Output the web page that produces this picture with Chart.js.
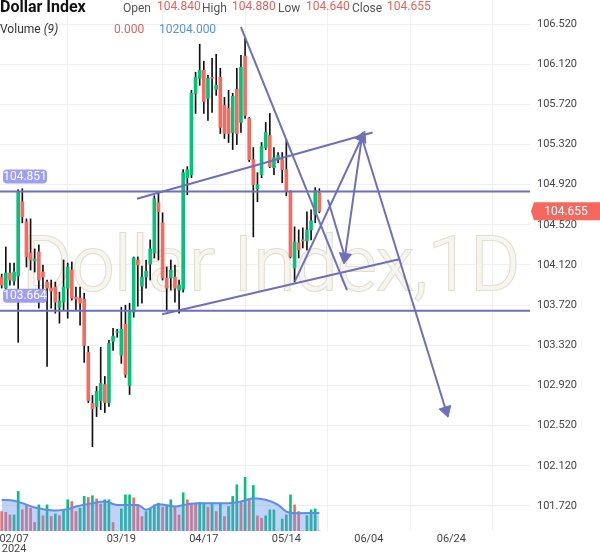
<!DOCTYPE html>
<html>
<head>
<meta charset="utf-8">
<script src="https://cdn.jsdelivr.net/npm/chart.js@4.4.1/dist/chart.umd.min.js"></script>
<style>
  body { margin: 0; background: #fff; }
  #wrap { position: relative; width: 600px; height: 558px; font-family: Roboto, sans-serif; }
  #myChart { position: absolute; left: 0; top: 0; }
  .t { position: absolute; white-space: nowrap; font-size: 12px; line-height: 12px; }
  .lab { color: #555; }
  .red { color: #e5625b; }
  .blue { color: #5b8ff0; }
</style>
</head>
<body>
<div id="wrap">
  <canvas id="myChart" width="600" height="558"></canvas>
  <span class="t" style="left:0;top:-1px;font-weight:bold;font-size:16px;line-height:16px;color:#111">Dollar Index</span>
  <span class="t lab" style="left:123px;top:2px">Open</span>
  <span class="t red" style="left:157px;top:0">104.840</span>
  <span class="t lab" style="left:202px;top:2px">High</span>
  <span class="t red" style="left:232px;top:0">104.880</span>
  <span class="t lab" style="left:278px;top:2px">Low</span>
  <span class="t red" style="left:306px;top:0">104.640</span>
  <span class="t lab" style="left:352px;top:2px">Close</span>
  <span class="t red" style="left:387px;top:0">104.655</span>
  <span class="t" style="left:0;top:23px;color:#333">Volume <i>(9)</i></span>
  <span class="t red" style="left:114px;top:23px">0.000</span>
  <span class="t blue" style="left:159px;top:23px">10204.000</span>
</div>
<script>
// daily candles (index 0 = first bar)
var opens  = [104.00,103.89,104.04,103.96,104.01,104.75,104.55,104.24,104.16,104.25,
              104.05,103.95,103.89,103.90,103.70,103.75,103.89,104.07,103.80,103.79,
              103.78,103.25,102.74,102.71,102.77,102.93,102.75,103.36,103.45,103.22,
              103.53,102.92,103.65,104.17,103.91,104.00,104.13,104.24,104.74,104.54,
              103.99,103.99,104.00,103.87,103.88,104.99,105.02,105.83,105.98,106.06,
              105.78,105.99,105.87,105.99,105.71,105.68,105.44,105.87,105.54,106.20,
              105.58,105.17,104.88,105.02,105.29,105.41,105.09,105.17,105.17,105.07,
              104.85,104.09,104.34,104.37,104.36,104.47,104.62,104.84];
var highs  = [104.03,104.30,104.14,104.14,104.87,104.88,104.58,104.58,104.28,104.32,
              104.12,103.97,103.97,103.95,103.85,104.17,104.14,104.15,103.90,103.90,
              103.84,103.31,102.82,102.91,103.30,103.01,103.37,103.49,103.48,103.70,
              103.72,103.74,104.20,104.20,104.11,104.17,104.37,104.81,104.84,104.64,
              104.10,104.17,104.12,103.97,105.07,105.10,105.86,106.04,106.32,106.15,
              106.01,106.18,106.22,106.08,105.79,105.86,105.83,106.08,106.21,106.38,
              105.59,105.29,105.04,105.34,105.54,105.63,105.29,105.24,105.24,105.37,
              104.86,104.50,104.47,104.49,104.65,104.67,104.89,104.88];
var lows   = [103.89,103.85,103.92,103.92,103.35,104.54,104.10,104.07,104.05,103.69,
              103.75,103.11,103.69,103.64,103.54,103.67,103.59,103.77,103.67,103.52,
              103.15,102.75,102.31,102.61,102.68,102.65,102.71,103.27,103.40,103.14,
              103.00,102.83,103.60,103.71,103.74,103.89,103.97,104.19,104.17,103.97,
              103.67,103.87,103.75,103.64,103.85,104.82,104.99,105.63,105.91,105.63,
              105.56,105.64,105.81,105.43,105.38,105.34,105.27,105.32,105.44,105.58,
              105.15,104.40,104.75,104.99,105.27,105.09,105.02,105.14,104.94,104.81,
              104.19,103.95,104.19,104.29,104.27,104.37,104.54,104.64];
var closes = [103.92,104.04,103.97,104.05,104.85,104.60,104.20,104.17,104.18,103.97,
              104.00,103.89,103.86,103.75,103.76,103.90,104.10,103.79,103.78,103.74,
              103.32,102.77,102.69,102.86,102.94,102.75,103.34,103.41,103.46,103.48,
              103.03,103.65,104.19,104.12,104.00,104.06,104.28,104.78,104.65,103.99,
              103.89,104.07,103.89,103.92,105.04,105.07,105.83,105.99,106.06,105.75,
              105.98,105.98,105.91,105.49,105.43,105.43,105.80,105.43,106.09,105.61,
              105.17,104.92,104.92,105.30,105.44,105.10,105.19,105.21,105.07,104.85,
              104.20,104.35,104.27,104.36,104.47,104.56,104.86,104.655];

// volume and its side (1 = up, 0 = down)
var volume = [11000,10600,9100,9100,22400,12000,14300,12900,4800,14800,
              8600,14800,8200,9700,8700,11600,17700,16700,11000,12900,
              19600,19000,20000,18200,15200,17700,17700,4800,0,12500,
              20500,20500,18800,14800,8200,11000,12900,14800,15800,13500,
              14400,17700,13900,9100,21700,17700,15800,15800,16200,15800,
              13500,15800,11000,15800,8200,13900,19600,26200,16700,30400,
              18100,25800,8600,7200,8600,12000,12000,0,6800,9100,
              20500,14800,11000,0,8700,12000,12500,0];
var volUp  = [0,0,0,1,1,0,0,0,0,1, 0,1,0,1,0,1,1,0,0,1, 1,0,1,0,0,1,1,0,1,1,
              1,1,0,0,0,1,1,1,1,0, 1,1,0,0,1,0,0,0,1,1, 0,1,0,1,0,1,1,1,0,1,
              0,1,0,0,1,1,1,1,1,1, 1,0,0,1,1,1,1,0];

// volume moving average (9), read at some bars
var maIdx = [0,3,5,8,10,13,16,18,22,25,28,33,35,38,42,45,48,55,58,61,64,67,69,71,77];
var maVal = [17700,17100,15800,13300,12400,11600,12400,13900,15800,16700,14800,14800,12000,
             15200,13900,15200,15800,15800,16700,18600,17700,14800,11000,10100,10204];

// price axis ticks and date ticks
var priceTicks = [101.72,102.12,102.52,102.92,103.32,103.72,104.12,104.52,104.92,105.32,105.72,106.12,106.52];
var dateTickIdx = [3,29,49,69,89,109];
var dateTickText = [['02/07','2024'],'03/19','04/17','05/14','06/04','06/24'];

// drawings: horizontal levels, trend lines, arrows  [x0, y0, x1, y1]
var levels = [104.851, 103.664];
var trendLines = [
  [32.8, 104.78, 89.9, 105.44],
  [38.9, 103.63, 96.6, 104.18],
  [58.0, 106.49, 83.7, 103.87],
  [79.1, 104.77, 83.2, 104.20]
];
var arrows = [
  [71.1, 103.96, 87.3, 105.39],
  [87.3, 105.39, 83.2, 104.20],
  [87.3, 105.39, 107.7, 102.67]
];

var xMin = -0.41, xMax = 128.07;
var GREEN = '#08c07b', RED = '#f86a60', PURPLE = '#6f6fbb';

var idx = opens.map(function (o, i) { return i; });

var datasets = [];
levels.forEach(function (v) {
  datasets.push({ type: 'line', data: [{x: xMin, y: v}, {x: xMax, y: v}], borderColor: PURPLE,
    borderWidth: 2, pointRadius: 0, order: 0 });
});
trendLines.forEach(function (l) {
  datasets.push({ type: 'line', data: [{x: l[0], y: l[1]}, {x: l[2], y: l[3]}], borderColor: PURPLE,
    borderWidth: 2, pointRadius: 0, order: 0 });
});
function arrowRot(c) {
  var d = c.dataset.data, sx = c.chart.scales.x, sy = c.chart.scales.y;
  var dx = sx.getPixelForValue(d[1].x) - sx.getPixelForValue(d[0].x);
  var dy = sy.getPixelForValue(d[1].y) - sy.getPixelForValue(d[0].y);
  return Math.atan2(dy, dx) * 180 / Math.PI + 90;
}
arrows.forEach(function (l) {
  datasets.push({ type: 'line', data: [{x: l[0], y: l[1]}, {x: l[2], y: l[3]}], borderColor: PURPLE,
    borderWidth: 2, pointRadius: [0, 7], pointStyle: 'triangle', pointRotation: arrowRot,
    pointBackgroundColor: PURPLE, pointBorderColor: PURPLE, pointBorderWidth: 1, order: 0 });
});

// candle bodies
datasets.push({ type: 'bar', data: idx.map(function (i) { return {x: i, y: [opens[i], closes[i]]}; }),
  backgroundColor: idx.map(function (i) { return closes[i] >= opens[i] ? GREEN : RED; }),
  barThickness: 3, minBarLength: 1, grouped: false, order: 1 });
// wicks
datasets.push({ type: 'bar', data: idx.map(function (i) { return {x: i, y: [lows[i], highs[i]]}; }),
  backgroundColor: '#111', barThickness: 1, grouped: false, order: 2 });
// volume MA area
datasets.push({ type: 'line', yAxisID: 'yv', data: maIdx.map(function (m, k) { return {x: m, y: maVal[k]}; }),
  borderColor: '#5a8ee8', borderWidth: 2, backgroundColor: 'rgba(105,150,235,0.42)', fill: 'origin',
  cubicInterpolationMode: 'monotone', pointRadius: 0, order: 3 });
// volume bars
datasets.push({ type: 'bar', yAxisID: 'yv', data: idx.map(function (i) { return {x: i, y: volume[i]}; }),
  backgroundColor: idx.map(function (i) { return volUp[i] ? GREEN : RED; }),
  barThickness: 2, grouped: false, order: 4 });

var watermark = {
  id: 'watermark',
  beforeDatasetsDraw: function (chart) {
    var c = chart.ctx;
    c.save();
    c.font = '300 100px Roboto';
    var w = c.measureText('Dollar Index,1D').width;
    c.font = '300 ' + (100 * 498 / w).toFixed(1) + 'px Roboto';
    c.textAlign = 'center';
    c.textBaseline = 'alphabetic';
    c.lineWidth = 2.2;
    c.strokeStyle = '#e3decd';
    c.strokeText('Dollar Index,1D', 271, 290);
    c.fillStyle = '#f7f5ef';
    c.fillText('Dollar Index,1D', 271, 290);
    c.restore();
  }
};

function roundBox(c, x, y, w, h, r) {
  c.beginPath();
  c.moveTo(x + r, y); c.lineTo(x + w - r, y); c.quadraticCurveTo(x + w, y, x + w, y + r);
  c.lineTo(x + w, y + h - r); c.quadraticCurveTo(x + w, y + h, x + w - r, y + h);
  c.lineTo(x + r, y + h); c.quadraticCurveTo(x, y + h, x, y + h - r);
  c.lineTo(x, y + r); c.quadraticCurveTo(x, y, x + r, y);
  c.closePath();
}

var tags = {
  id: 'tags',
  afterDatasetsDraw: function (chart) {
    var c = chart.ctx, sy = chart.scales.y, a = chart.chartArea;
    c.save();
    c.font = '12px Roboto';
    c.textAlign = 'center';
    c.textBaseline = 'middle';
    levels.forEach(function (v) {
      var py = sy.getPixelForValue(v);
      c.fillStyle = '#9f9ef7';
      roundBox(c, 3, py - 22, 44, 14, 4);
      c.fill();
      c.fillStyle = '#fff';
      c.fillText(v.toFixed(3), 25, py - 14.5);
    });
    var last = closes[closes.length - 1];
    var py = sy.getPixelForValue(last);
    c.fillStyle = '#f6675e';
    c.beginPath();
    c.moveTo(a.right + 1, py);
    c.lineTo(a.right + 4, py - 9);
    c.lineTo(600, py - 9);
    c.lineTo(600, py + 9);
    c.lineTo(a.right + 4, py + 9);
    c.closePath();
    c.fill();
    c.fillStyle = '#fff';
    c.fillText(last.toFixed(3), 566, py + 0.5);
    c.restore();
  }
};

var ctx = document.getElementById('myChart').getContext('2d');
new Chart(ctx, {
  data: { datasets: datasets },
  plugins: [watermark, tags],
  options: {
    responsive: false,
    animation: false,
    layout: { padding: 0, autoPadding: false },
    plugins: { legend: { display: false }, tooltip: { enabled: false } },
    scales: {
      x: {
        type: 'linear', min: xMin, max: xMax, offset: false,
        border: { display: false },
        grid: { drawTicks: false, color: function (c) { return c.tick && c.tick.value === 3 ? 'rgba(0,0,0,0)' : '#f0f0f0'; } },
        afterBuildTicks: function (s) { s.ticks = dateTickIdx.map(function (v) { return {value: v}; }); },
        afterFit: function (s) { s.height = 27; s.paddingLeft = 0; s.paddingRight = 0; },
        ticks: {
          autoSkip: false, maxRotation: 0, padding: 3, color: '#444',
          font: { family: 'Roboto', size: 11, lineHeight: 0.95 },
          callback: function (v) { var k = dateTickIdx.indexOf(v); return k < 0 ? '' : dateTickText[k]; }
        }
      },
      y: {
        position: 'right', min: 101.47, max: 106.76,
        border: { display: false },
        grid: { drawTicks: false, color: '#f0f0f0' },
        afterBuildTicks: function (s) { s.ticks = priceTicks.map(function (v) { return {value: v}; }); },
        afterFit: function (s) { s.width = 70; s.paddingTop = 0; s.paddingBottom = 0; },
        ticks: { padding: 7, color: '#444', font: { family: 'Roboto', size: 11 },
          callback: function (v) { return v.toFixed(3); } }
      },
      yv: { display: false, min: 0, max: 301000 }
    }
  }
});
</script>
</body>
</html>
